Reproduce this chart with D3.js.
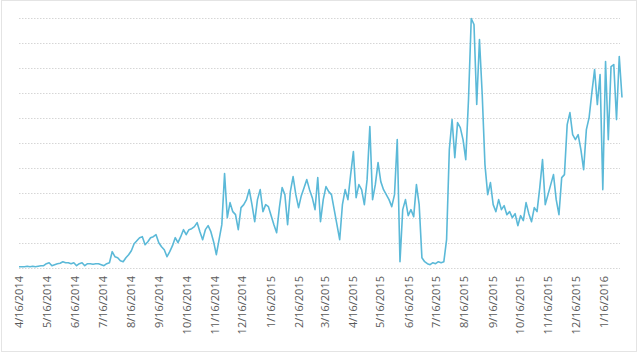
<!DOCTYPE html>
<html><head><meta charset="utf-8">
<script src="https://cdn.jsdelivr.net/npm/d3@7/dist/d3.min.js"></script>
<style>body{margin:0;background:#fff}svg{display:block}</style>
</head><body><svg id="c" width="640" height="354"></svg>
<script>
// Series: one value every 3 days starting 4/16/2014
const startDate = "2014-04-16";
const stepDays = 3;
const values = [
4,4,4,6,4,6,4,6,8,8,16,20,8,12,16,18,24,20,20,16,20,8,16,20,8,16,16,14,16,16,12,8,
16,20,64,44,40,28,24,40,52,68,96,108,120,124,92,104,120,124,132,100,84,72,44,64,88,120,100,124,
152,132,152,156,164,180,144,112,152,168,144,104,52,112,172,376,200,260,224,212,152,240,252,272,
312,252,184,272,312,224,252,244,208,172,140,240,320,292,172,304,364,292,240,288,320,352,312,280,
232,360,184,272,324,304,292,232,172,112,252,312,272,372,464,280,332,312,252,352,564,272,332,420,
344,312,292,272,244,292,512,24,232,272,208,232,204,332,252,40,24,16,12,20,16,24,20,24,112,472,
592,440,580,560,512,432,672,996,972,652,912,692,412,292,340,252,224,272,232,248,212,224,200,216,
168,208,188,260,216,184,240,224,320,432,252,292,332,372,272,212,360,372,572,620,532,512,532,472,
392,552,600,700,792,652,772,312,824,512,804,812,592,844,680
];
// Tick labels: the 16th of each month
const tickLabels = ["4/16/2014","5/16/2014","6/16/2014","7/16/2014","8/16/2014","9/16/2014","10/16/2014",
"11/16/2014","12/16/2014","1/16/2015","2/16/2015","3/16/2015","4/16/2015","5/16/2015","6/16/2015",
"7/16/2015","8/16/2015","9/16/2015","10/16/2015","11/16/2015","12/16/2015","1/16/2016"];
const yTicks = [0,100,200,300,400,500,600,700,800,900,1000];

const parse = d3.timeParse("%m/%d/%Y");
const t0 = d3.timeParse("%Y-%m-%d")(startDate);
const data = values.map((v,i)=>({date:d3.timeDay.offset(t0,i*stepDays), v}));
const tickDates = tickLabels.map(s=>parse(s));

const svg = d3.select("#c");
svg.append("rect").attr("x",1.5).attr("y",0.5).attr("width",635).attr("height",351)
  .attr("fill","#fff").attr("stroke","#e4e4e4").attr("stroke-width",1);

const x = d3.scaleTime().domain([t0, data[data.length-1].date]).range([19, 622]);
const y = d3.scaleLinear().domain([0,1000]).range([267.7, 17.5]);

// gridlines
svg.append("g").selectAll("line").data(yTicks).join("line")
  .attr("x1",19).attr("x2",620)
  .attr("y1",d=>Math.round(y(d))+0.5).attr("y2",d=>Math.round(y(d))+0.5)
  .attr("stroke","#d6d6d6").attr("stroke-width",1).attr("stroke-dasharray","1.5,1.5");

// x axis
const xAxis = d3.axisBottom(x).tickValues(tickDates).tickFormat(d3.timeFormat("%-m/%-d/%Y")).tickSize(0).tickPadding(0);
const gx = svg.append("g").attr("transform","translate(0,268)").call(xAxis);
gx.select(".domain").remove();
gx.selectAll("text")
  .attr("transform","rotate(-90)")
  .attr("x",-8).attr("y",0).attr("dy","0.35em")
  .attr("text-anchor","end")
  .attr("fill","#595959")
  .style("font-family","'Open Sans', 'Liberation Sans', sans-serif")
  .style("font-size","11px");

// line
svg.append("path").datum(data)
  .attr("fill","none").attr("stroke","#5bb9d8").attr("stroke-width",1.6)
  .attr("stroke-linejoin","round")
  .attr("d", d3.line().x(d=>x(d.date)).y(d=>y(d.v)));
</script></body></html>
